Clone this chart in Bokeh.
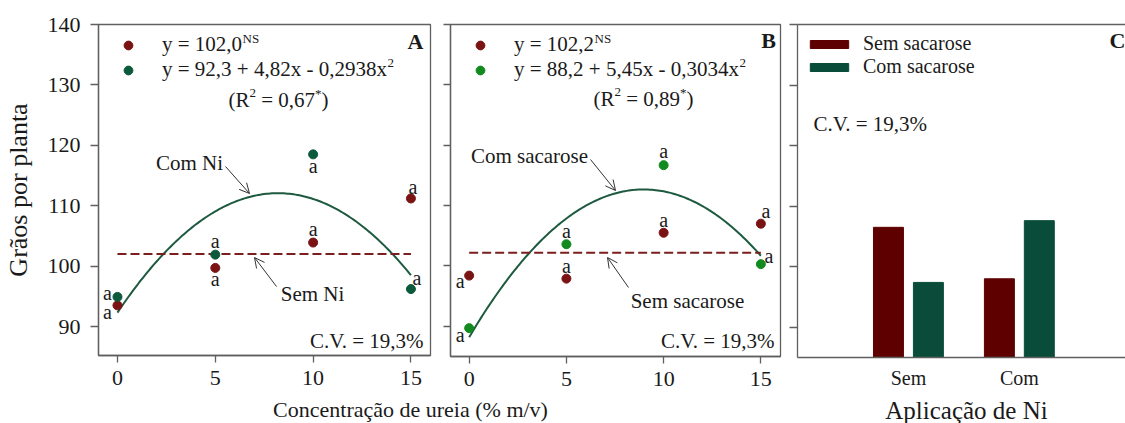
import numpy as np
from bokeh.plotting import figure
from bokeh.layouts import row, column
from bokeh.models import (Range1d, Label, Arrow, OpenHead, Legend, LegendItem,
                          LinearAxis, FixedTicker, ColumnDataSource)
from bokeh.core.properties import value
from bokeh.transform import dodge
from bokeh.embed import file_html
from bokeh.resources import INLINE

# ---------------- data ----------------
urea = [0, 5, 10, 15]
y_ticks = [90, 100, 110, 120, 130, 140]

# Panel A (Ni)
a_sem_ni = [93.5, 99.7, 103.9, 111.2]
a_com_ni = [94.9, 101.9, 118.5, 96.2]
a_sem_ni_letters = ["a", "a", "a", "a"]
a_com_ni_letters = ["a", "a", "a", "a"]
a_sem_ni_mean = 102.0
a_com_ni_coef = [92.3, 4.82, -0.2938]

# Panel B (sacarose)
b_sem_sac = [98.4, 97.9, 105.5, 107.0]
b_com_sac = [89.7, 103.6, 116.7, 100.3]
b_sem_sac_letters = ["a", "a", "a", "a"]
b_com_sac_letters = ["a", "a", "a", "a"]
b_sem_sac_mean = 102.2
b_com_sac_coef = [88.2, 5.45, -0.3034]

# Panel C
ni_levels = ["Sem", "Com"]
c_sem_sac = [106.5, 98.0]
c_com_sac = [97.4, 107.6]

# ---------------- style ----------------
FONT = "Liberation Serif"
RED_PT = "#7a1414"
GREEN_A = "#0b5a3c"
GREEN_B = "#138a1f"
RED_LINE = "#7a1e1e"
GREEN_LINE = "#1d5a3f"
BAR_RED = "#5e0000"
BAR_GREEN = "#0a4c3a"
AX = "#5f5f5f"
TXT = "#1a1a1a"

CW = {' ': 250, 'y': 500, '=': 564, '+': 564, ',': 250, 'x': 500, '-': 333,
      '(': 333, ')': 333, 'R': 667, '*': 500, 'N': 722, 'S': 556}


def tw(s, size):
    return sum(CW.get(c, 500) for c in s) * size / 1000.0


PA = dict(fl=96, fw=332, ft=24, fh=331, xr=(-0.97, 16.0), yr=(85.2, 140.0))
PB = dict(fl=448, fw=330, ft=22, fh=332, xr=(-0.96, 16.01), yr=(85.0, 140.0))
PC = dict(fl=795, fw=330, ft=24, fh=333, xr=(0.0, 2.975), yr=(85.0, 140.0))


def to_data(P, px, py):
    x0, x1 = P["xr"]
    y0, y1 = P["yr"]
    return (x0 + (px - P["fl"]) / P["fw"] * (x1 - x0),
            y1 - (py - P["ft"]) / P["fh"] * (y1 - y0))


def style_axis(ax):
    ax.axis_line_color = AX
    ax.axis_line_width = 1.3
    ax.major_tick_line_color = AX
    ax.major_tick_line_width = 1.3
    ax.major_tick_in = 0
    ax.major_tick_out = 7
    ax.minor_tick_line_color = None
    ax.major_label_text_font = FONT
    ax.major_label_text_font_size = "22px"
    ax.major_label_text_color = TXT


def make_fig(P, left, right, bottom):
    p = figure(frame_width=P["fw"], frame_height=P["fh"],
               min_border_left=left, min_border_right=right,
               min_border_top=P["ft"], min_border_bottom=bottom,
               x_range=Range1d(*P["xr"]), y_range=Range1d(*P["yr"]),
               output_backend="svg", toolbar_location=None, tools="",
               background_fill_color="white", border_fill_color="white")
    p.xgrid.visible = False
    p.ygrid.visible = False
    p.outline_line_color = AX
    p.outline_line_width = 1.3
    for ax in p.axis:
        style_axis(ax)
    return p


def lab(p, P, px, py, text, size, align="left", bold=False):
    x, y = to_data(P, px, py)
    p.add_layout(Label(x=x, y=y, text=text, text_font=FONT,
                       text_font_size=f"{size}px", text_align=align,
                       text_baseline="middle", text_color=TXT,
                       text_font_style="bold" if bold else "normal"))


def runs(p, P, px, center, parts):
    # place text pieces one after another (SVG drops leading/trailing spaces,
    # so the spaces are turned into advances)
    for text, size, rise in parts:
        core = text.strip(" ")
        lead = len(text) - len(text.lstrip(" "))
        px += tw(" " * lead, size)
        lab(p, P, px, center - rise, core, size)
        px += tw(text[lead:], size)


def arrow(p, P, sx0, sy0, sx1, sy1):
    x0, y0 = to_data(P, sx0, sy0)
    x1, y1 = to_data(P, sx1, sy1)
    p.add_layout(Arrow(end=OpenHead(size=10, line_color="#333333", line_width=1),
                       x_start=x0, y_start=y0, x_end=x1, y_end=y1,
                       line_color="#333333", line_width=1))


def eq_legend(p, r1, r2, l1, l2):
    leg = Legend(items=[LegendItem(label=l1, renderers=[r1]),
                        LegendItem(label=l2, renderers=[r2])],
                 location="top_left", margin=0, padding=8,
                 glyph_width=44, glyph_height=22, label_height=25,
                 label_standoff=12, spacing=0,
                 label_text_font=FONT, label_text_font_size="21px",
                 label_text_color=TXT, background_fill_alpha=0,
                 border_line_color="white", border_line_alpha=0)
    p.add_layout(leg)


def hide_labels(ax, ticks):
    ax.major_label_overrides = {t: "" for t in ticks}
    ax.major_label_standoff = 0


xs = np.linspace(0, 15, 151)

# ---------------- Panel A ----------------
p1 = make_fig(PA, 96, 5, 41)
p1.xaxis.ticker = FixedTicker(ticks=urea)
p1.yaxis.ticker = FixedTicker(ticks=y_ticks)
p1.xaxis.major_label_standoff = 8
p1.yaxis.major_label_standoff = 10
p1.yaxis.major_tick_out = 8
p1.yaxis.axis_label = "Grãos por planta"
p1.yaxis.axis_label_text_font = FONT
p1.yaxis.axis_label_text_font_size = "26px"
p1.yaxis.axis_label_text_font_style = "normal"
p1.yaxis.axis_label_text_color = TXT
p1.yaxis.axis_label_standoff = 12

p1.line(xs, np.polyval(a_com_ni_coef[::-1], xs), line_color=GREEN_LINE, line_width=2)
p1.line([urea[0], urea[-1]], [a_sem_ni_mean, a_sem_ni_mean], line_color=RED_LINE,
        line_width=2, line_dash="9 4")
ra1 = p1.scatter(urea, a_sem_ni, size=9, color=RED_PT)
ra2 = p1.scatter(urea, a_com_ni, size=9, color=GREEN_A)
p1.text(x=urea, y=a_sem_ni, text=a_sem_ni_letters, x_offset=[-10, 0, 0, 2],
        y_offset=[7, 11, -14, -11], text_font=value(FONT), text_font_size="20px",
        text_align="center", text_baseline="middle", text_color=TXT)
p1.text(x=urea, y=a_com_ni, text=a_com_ni_letters, x_offset=[-10, 0, 0, 6],
        y_offset=[-4, -14, 12, -11], text_font=value(FONT), text_font_size="20px",
        text_align="center", text_baseline="middle", text_color=TXT)

eq_legend(p1, ra1, ra2, "y = 102,0", "y = 92,3 + 4,82x - 0,2938x")
runs(p1, PA, 160 + tw("y = 102,0", 21), 44.5, [("NS", 13, 7)])
runs(p1, PA, 160 + tw("y = 92,3 + 4,82x - 0,2938x", 21), 69.5, [("2", 13, 7)])
runs(p1, PA, 226, 99, [("(R", 21, 0), ("2", 13, 7), (" = 0,67", 21, 0), ("*", 13, 6), (")", 21, 0)])
lab(p1, PA, 413, 41, "A", 22, align="center", bold=True)
lab(p1, PA, 421, 340, "C.V. = 19,3%", 21, align="right")
lab(p1, PA, 187, 162, "Com Ni", 21, align="center")
arrow(p1, PA, 223, 166, 247, 193)
lab(p1, PA, 310, 293, "Sem Ni", 21, align="center")
arrow(p1, PA, 274, 286, 252, 257)

# ---------------- Panel B ----------------
p2 = make_fig(PB, 15, 5, 42)
p2.xaxis.ticker = FixedTicker(ticks=urea)
p2.yaxis.ticker = FixedTicker(ticks=y_ticks)
p2.xaxis.major_label_standoff = 8
hide_labels(p2.yaxis[0], y_ticks)

p2.line(xs, np.polyval(b_com_sac_coef[::-1], xs), line_color=GREEN_LINE, line_width=2)
p2.line([urea[0], urea[-1]], [b_sem_sac_mean, b_sem_sac_mean], line_color=RED_LINE,
        line_width=2, line_dash="9 4")
rb1 = p2.scatter(urea, b_sem_sac, size=9, color=RED_PT)
rb2 = p2.scatter(urea, b_com_sac, size=9, color=GREEN_B)
p2.text(x=urea, y=b_sem_sac, text=b_sem_sac_letters, x_offset=[-9, 0, 0, 5],
        y_offset=[5, -13, -13, -13], text_font=value(FONT), text_font_size="20px",
        text_align="center", text_baseline="middle", text_color=TXT)
p2.text(x=urea, y=b_com_sac, text=b_com_sac_letters, x_offset=[-9, 0, 0, 8],
        y_offset=[7, -13, -14, -8], text_font=value(FONT), text_font_size="20px",
        text_align="center", text_baseline="middle", text_color=TXT)

eq_legend(p2, rb1, rb2, "y = 102,2", "y = 88,2 + 5,45x - 0,3034x")
runs(p2, PB, 512 + tw("y = 102,2", 21), 42.5, [("NS", 13, 7)])
runs(p2, PB, 512 + tw("y = 88,2 + 5,45x - 0,3034x", 21), 67.5, [("2", 13, 7)])
runs(p2, PB, 591, 96, [("(R", 21, 0), ("2", 13, 7), (" = 0,89", 21, 0), ("*", 13, 6), (")", 21, 0)])
lab(p2, PB, 766, 38, "B", 22, align="center", bold=True)
lab(p2, PB, 772, 338, "C.V. = 19,3%", 21, align="right")
lab(p2, PB, 527, 153, "Com sacarose", 21, align="center")
arrow(p2, PB, 588, 157, 613, 188)
lab(p2, PB, 685, 298, "Sem sacarose", 21, align="center")
arrow(p2, PB, 626, 285, 605, 255)

# ---------------- Panel C ----------------
p3 = make_fig(PC, 12, 0, 39)
p3.outline_line_color = None
pos = list(range(1, len(ni_levels) + 1))
bottom_axis = p3.below[0]
left_axis = p3.left[0]
left_axis.ticker = FixedTicker(ticks=y_ticks)
hide_labels(left_axis, y_ticks)
left_axis.major_tick_out = 8
bottom_axis.ticker = FixedTicker(ticks=pos)
bottom_axis.major_label_overrides = {k: v for k, v in zip(pos, ni_levels)}
bottom_axis.major_tick_out = 0
bottom_axis.major_label_standoff = 9
bottom_axis.major_label_text_font_size = "20px"

top_axis = LinearAxis(ticker=FixedTicker(ticks=[]))
style_axis(top_axis)
top_axis.major_tick_out = 0
top_axis.major_label_standoff = 0
p3.add_layout(top_axis, "above")

src = ColumnDataSource(dict(pos=pos, level=ni_levels, sem=c_sem_sac, com=c_com_sac))
rc1 = p3.vbar(x=dodge("pos", -0.18, range=p3.x_range), top="sem", bottom=0, width=0.27,
              source=src, fill_color=BAR_RED, line_color=BAR_RED)
rc2 = p3.vbar(x=dodge("pos", 0.18, range=p3.x_range), top="com", bottom=0, width=0.27,
              source=src, fill_color=BAR_GREEN, line_color=BAR_GREEN)
legc = Legend(items=[LegendItem(label="Sem sacarose", renderers=[rc1]),
                     LegendItem(label="Com sacarose", renderers=[rc2])],
              location="top_left", margin=0, padding=8,
              glyph_width=48, glyph_height=10, label_height=23,
              label_standoff=10, spacing=0,
              label_text_font=FONT, label_text_font_size="20px",
              label_text_color=TXT, background_fill_alpha=0,
              border_line_color="white", border_line_alpha=0)
p3.add_layout(legc)
lab(p3, PC, 1115, 40, "C", 22, align="center", bold=True)
lab(p3, PC, 811, 123, "C.V. = 19,3%", 21, align="left")

# ---------------- bottom strip with axis titles ----------------
strip = figure(width=1125, height=27, x_range=Range1d(0, 1125), y_range=Range1d(0, 27),
               min_border=0, output_backend="svg", toolbar_location=None, tools="",
               x_axis_type=None, y_axis_type=None, background_fill_color="white",
               border_fill_color="white")
strip.outline_line_color = None
strip.xgrid.visible = False
strip.ygrid.visible = False
strip.add_layout(Label(x=410, y=14, text="Concentração de ureia (% m/v)", text_font=FONT,
                       text_font_size="22px", text_align="center",
                       text_baseline="middle", text_color=TXT))
strip.add_layout(Label(x=966, y=13.5, text="Aplicação de Ni", text_font=FONT,
                       text_font_size="25px", text_align="center",
                       text_baseline="middle", text_color=TXT))

layout = column(row(p1, p2, p3), strip)
open("out.html", "w").write(file_html(layout, INLINE))
